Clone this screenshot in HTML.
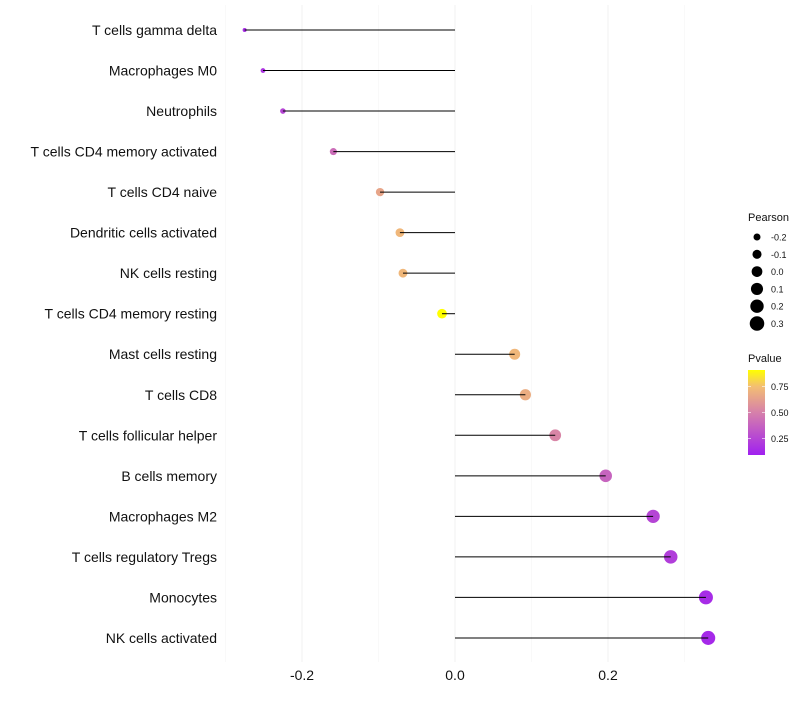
<!DOCTYPE html>
<html><head><meta charset="utf-8"><style>
body{margin:0;background:#fff;font-family:"Liberation Sans",sans-serif}
</style></head><body>
<svg id="c" width="800" height="700" xmlns="http://www.w3.org/2000/svg"></svg>
<script>
const categories=["T cells gamma delta","Macrophages M0","Neutrophils","T cells CD4 memory activated","T cells CD4 naive","Dendritic cells activated","NK cells resting","T cells CD4 memory resting","Mast cells resting","T cells CD8","T cells follicular helper","B cells memory","Macrophages M2","T cells regulatory  Tregs ","Monocytes","NK cells activated"];
const pearson=[-0.275,-0.251,-0.225,-0.159,-0.098,-0.072,-0.068,-0.017,0.078,0.092,0.131,0.197,0.259,0.282,0.328,0.331];
const pvalue=[0.15,0.18,0.25,0.42,0.65,0.72,0.72,0.95,0.72,0.68,0.52,0.38,0.25,0.22,0.14,0.13];
const xTicks=[-0.2,0.0,0.2];
const xTickLabels=["-0.2","0.0","0.2"];
const sizeLegend=[-0.2,-0.1,0.0,0.1,0.2,0.3];
const sizeLegendLabels=["-0.2","-0.1","0.0","0.1","0.2","0.3"];
const colorLegend=[0.25,0.50,0.75];
const colorLegendLabels=["0.25","0.50","0.75"];

const svg=document.getElementById('c');
const NS="http://www.w3.org/2000/svg";
function el(t,a,p){const e=document.createElementNS(NS,t);for(const k in a)e.setAttribute(k,a[k]);(p||svg).appendChild(e);return e;}
const x=v=>455+v*765;
const y=i=>30+i*40.53;
const r=v=>Math.sqrt(Math.max(2,4+(v+0.275)*75));
const stops=[[0.09,[160,32,240]],[0.5,[214,128,170]],[0.75,[243,190,115]],[0.93,[255,255,0]]];
function col(p){if(p<=stops[0][0])return 'rgb('+stops[0][1]+')';for(let i=1;i<stops.length;i++){if(p<=stops[i][0]){const a=stops[i-1],b=stops[i],t=(p-a[0])/(b[0]-a[0]);return 'rgb('+a[1].map((c,j)=>Math.round(c+(b[1][j]-c)*t)).join(',')+')';}}return 'rgb(255,255,0)';}
[-0.3,-0.1,0.1,0.3].forEach(v=>{const g=el('line',{x1:x(v),x2:x(v),y1:5,y2:662,stroke:'#f5f5f5','stroke-width':0.6});});
xTicks.forEach((v,i)=>{const g=el('line',{x1:x(v),x2:x(v),y1:5,y2:662,stroke:'#f0f0f0','stroke-width':1});
const t=el('text',{x:x(v),y:680,'text-anchor':'middle','font-size':14,fill:'#111'});t.textContent=xTickLabels[i];});
categories.forEach((c,i)=>{
const t=el('text',{x:217,y:y(i)+5,'text-anchor':'end','font-size':14,fill:'#111'});t.textContent=c;
const d=el('circle',{cx:x(pearson[i]),cy:y(i),r:r(pearson[i]),fill:col(pvalue[i])});
const l=el('line',{x1:x(0),x2:x(pearson[i]),y1:y(i),y2:y(i),stroke:'#000','stroke-width':1});
});
const lt=el('text',{x:748,y:221,'font-size':11,fill:'#111'});lt.textContent='Pearson';
sizeLegend.forEach((v,i)=>{const cy=237+i*17.3;const d=el('circle',{cx:757,cy:cy,r:r(v)+0.4,fill:'#000'});
const t=el('text',{x:771,y:cy+3.5,'font-size':9,fill:'#111'});t.textContent=sizeLegendLabels[i];});
const pt=el('text',{x:748,y:362,'font-size':11,fill:'#111'});pt.textContent='Pvalue';
const defs=el('defs',{});const lg=el('linearGradient',{id:'g',x1:0,y1:1,x2:0,y2:0},defs);
stops.forEach(s=>{const o=(s[0]-0.09)/(0.91-0.09);el('stop',{offset:Math.min(1,o),'stop-color':'rgb('+s[1]+')'},lg);});
const cb=el('rect',{x:748,y:370,width:17,height:85,fill:'url(#g)'});
const cy=p=>455-(p-0.09)/0.25*26;
colorLegend.forEach((v,i)=>{el('line',{x1:748,x2:751,y1:cy(v),y2:cy(v),stroke:'#fff','stroke-width':0.6});el('line',{x1:762,x2:765,y1:cy(v),y2:cy(v),stroke:'#fff','stroke-width':0.6});
const t=el('text',{x:771,y:cy(v)+3.5,'font-size':9,fill:'#111'});t.textContent=colorLegendLabels[i];});
</script>
</body></html>
